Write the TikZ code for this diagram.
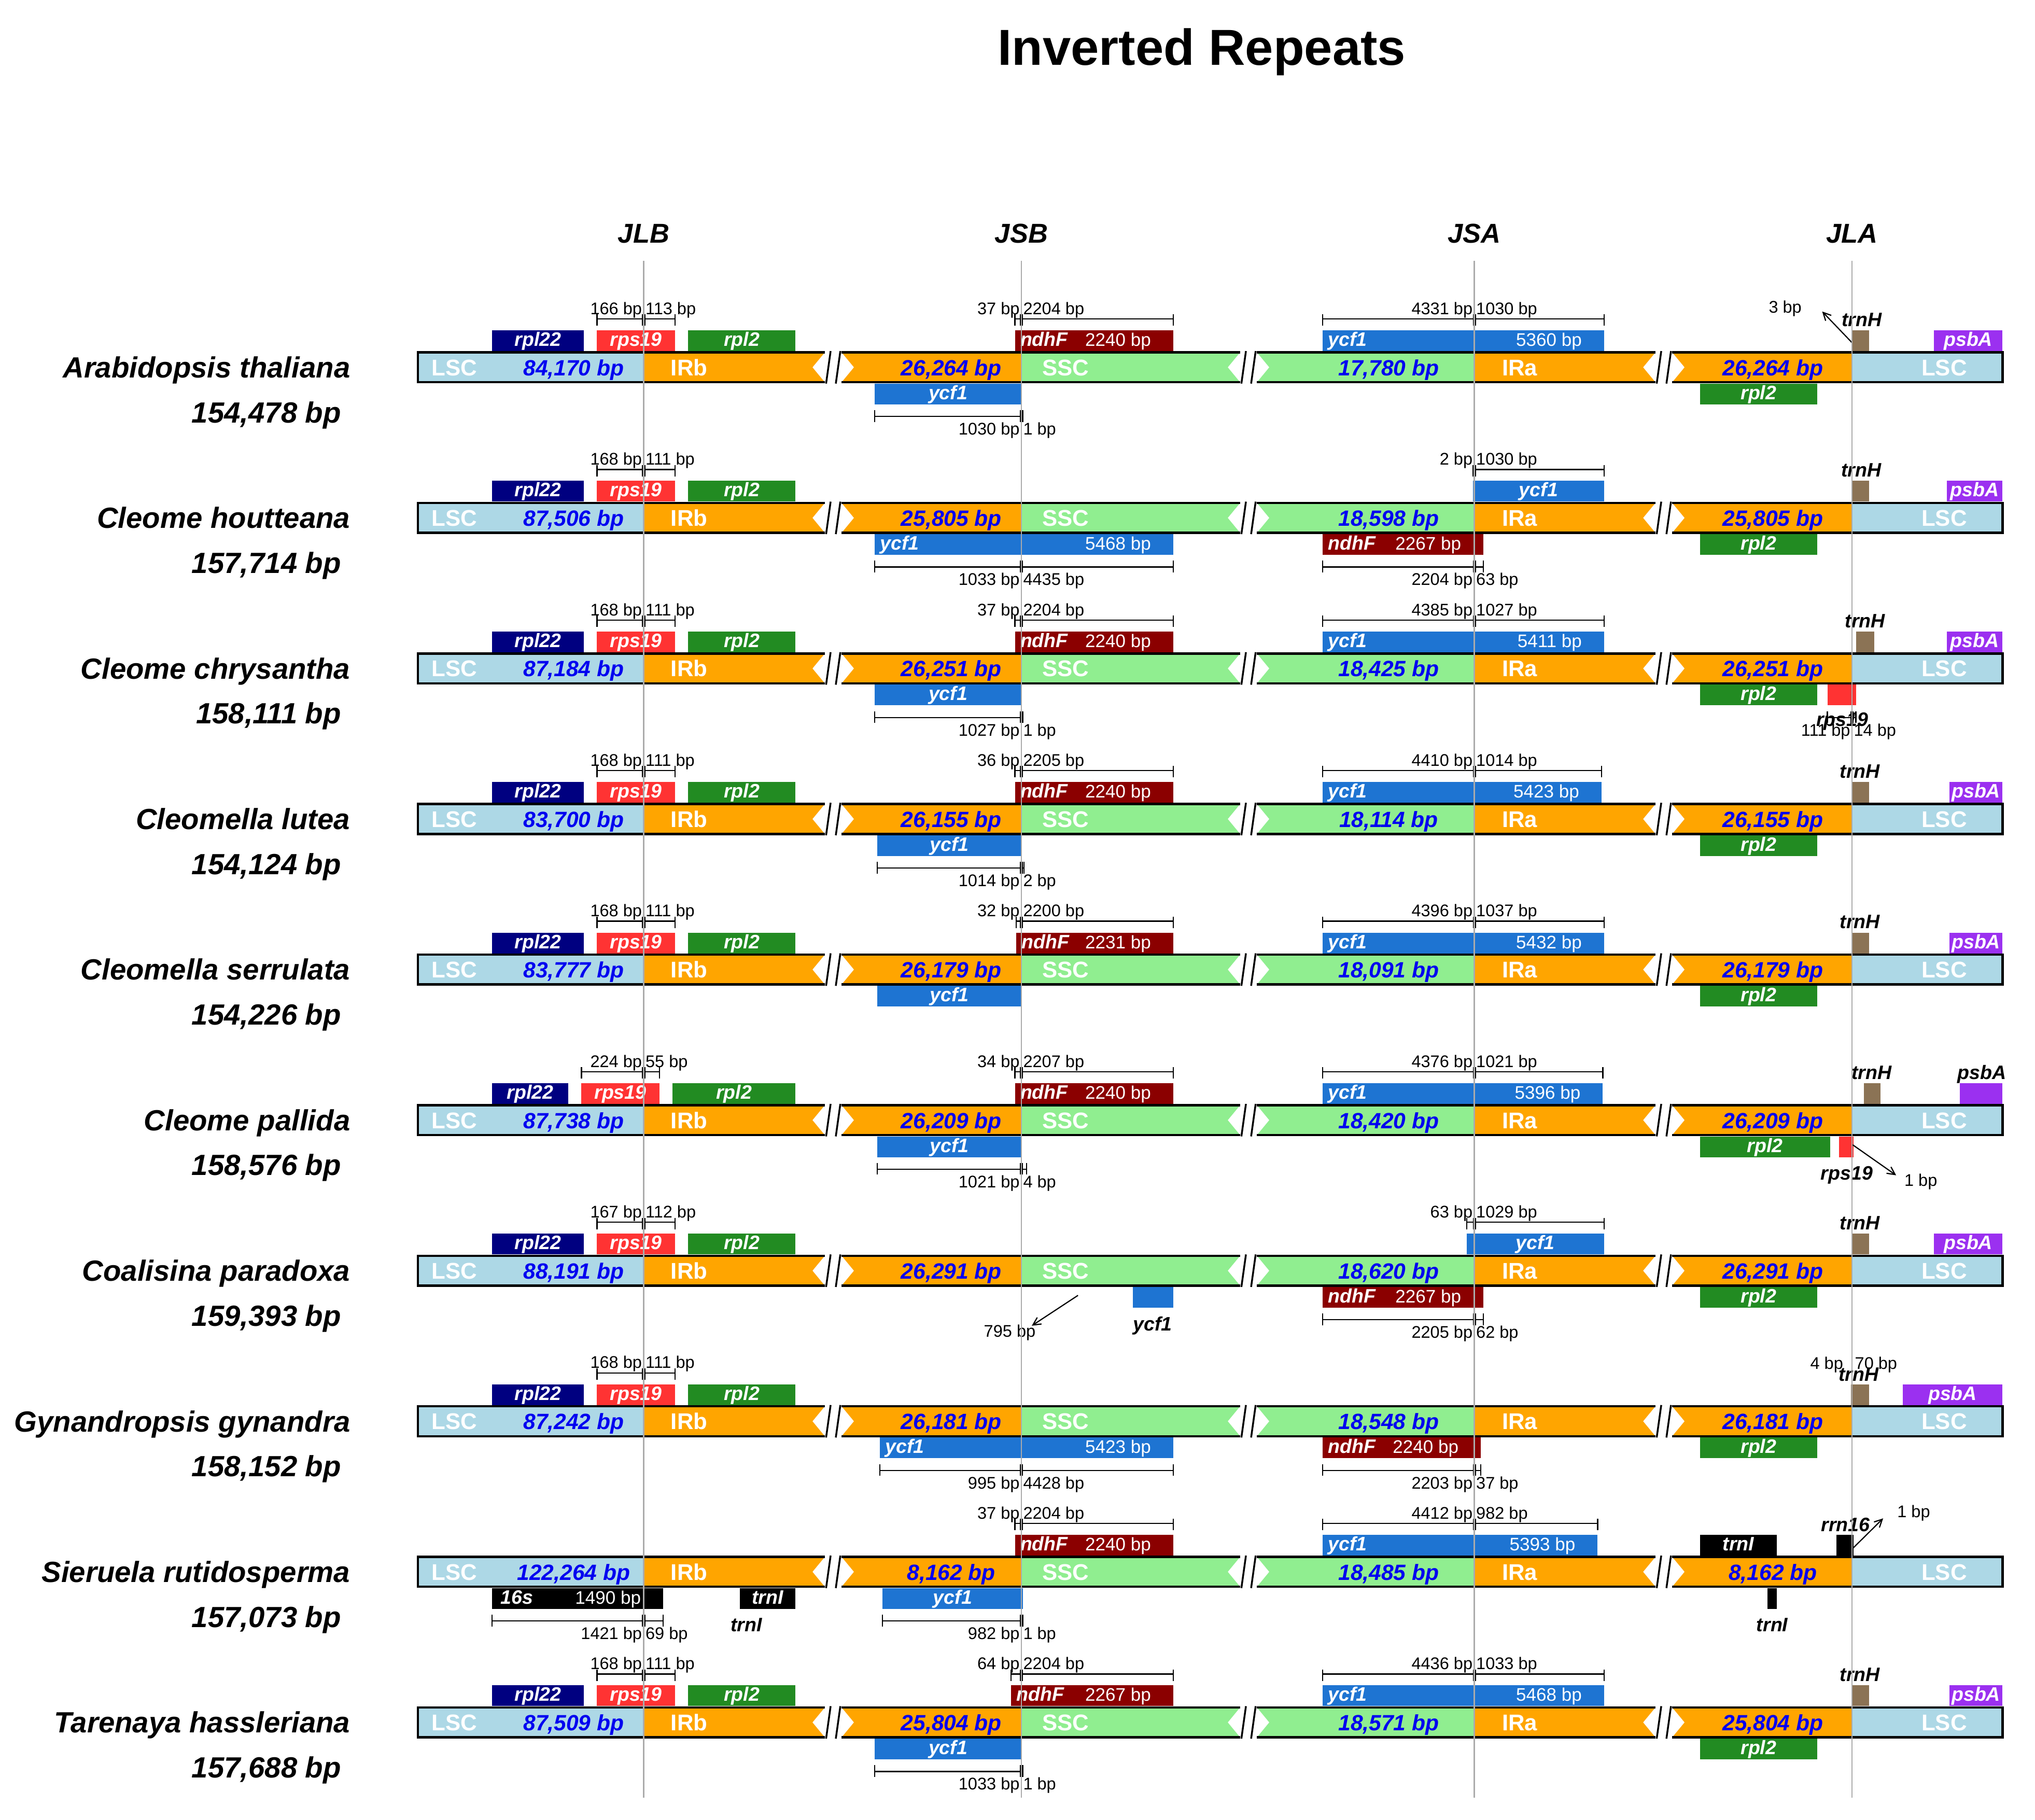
\documentclass[tikz,border=0pt]{standalone}
\usepackage{fontspec}
\setmainfont{Liberation Sans}
\usetikzlibrary{arrows.meta}

\definecolor{lscblue}{HTML}{ADD8E6}
\definecolor{irorange}{HTML}{FFA500}
\definecolor{sscgreen}{HTML}{90EE90}
\definecolor{rplnavy}{HTML}{000080}
\definecolor{rpsred}{HTML}{FF3333}
\definecolor{rplgreen}{HTML}{228B22}
\definecolor{ndhred}{HTML}{8B0000}
\definecolor{ycfblue}{HTML}{1E74D2}
\definecolor{trnbrown}{HTML}{8B7355}
\definecolor{psbpurple}{HTML}{9B30F0}
\definecolor{numblue}{HTML}{0000F0}

\tikzset{
  barline/.style={line width=1.8pt,black},
  slash/.style={line width=1.4pt,black},
  junc/.style={line width=1.1pt,black!33},
  brk/.style={line width=0.9pt,black},
  ptr/.style={line width=0.9pt,-{Straight Barb[length=6pt,width=6pt]}},
  mtxt/.style={inner sep=0pt,font=\fontsize{13}{15}\selectfont},
  gname/.style={inner sep=0pt,text=white,font=\fontsize{15}{17}\selectfont\bfseries\itshape},
  gval/.style={inner sep=0pt,text=white,font=\fontsize{14}{16}\selectfont},
  glbl/.style={inner sep=0pt,font=\fontsize{15}{17}\selectfont\bfseries\itshape},
  reglbl/.style={inner sep=0pt,text=white,font=\fontsize{17.5}{20}\selectfont\bfseries},
  lenlbl/.style={inner sep=0pt,text=numblue,font=\fontsize{17}{20}\selectfont\bfseries\itshape},
  spname/.style={inner sep=0pt,font=\fontsize{22.5}{26}\selectfont\bfseries\itshape},
  hdr/.style={inner sep=0pt,font=\fontsize{21}{24}\selectfont\bfseries\itshape},
  ttl/.style={inner sep=0pt,font=\fontsize{39}{44}\selectfont\bfseries}
}

% one genome bar: y, LSC, IRb, SSC, IRa lengths
\newcommand{\chloro}[5]{%
  \fill[lscblue] (322,#1-11.5) rectangle (496,#1+11.5);
  \fill[irorange] (496,#1-11.5) -- (635.5,#1-11.5) -- (626,#1) -- (635.5,#1+11.5) -- (496,#1+11.5) -- cycle;
  \fill[irorange] (648.5,#1-11.5) -- (787,#1-11.5) -- (787,#1+11.5) -- (648.5,#1+11.5) -- (658,#1) -- cycle;
  \fill[sscgreen] (787,#1-11.5) -- (955.5,#1-11.5) -- (946,#1) -- (955.5,#1+11.5) -- (787,#1+11.5) -- cycle;
  \fill[sscgreen] (968.5,#1-11.5) -- (1136,#1-11.5) -- (1136,#1+11.5) -- (968.5,#1+11.5) -- (978,#1) -- cycle;
  \fill[irorange] (1136,#1-11.5) -- (1275.5,#1-11.5) -- (1266,#1) -- (1275.5,#1+11.5) -- (1136,#1+11.5) -- cycle;
  \fill[irorange] (1288.5,#1-11.5) -- (1427,#1-11.5) -- (1427,#1+11.5) -- (1288.5,#1+11.5) -- (1298,#1) -- cycle;
  \fill[lscblue] (1427,#1-11.5) rectangle (1543,#1+11.5);
  \draw[barline] (635.5,#1-11.5) -- (322,#1-11.5) -- (322,#1+11.5) -- (635.5,#1+11.5);
  \draw[barline] (1288.5,#1-11.5) -- (1543,#1-11.5) -- (1543,#1+11.5) -- (1288.5,#1+11.5);
  \foreach \xa/\xb in {648.5/955.5,968.5/1275.5}{
    \draw[barline] (\xa,#1-11.5) -- (\xb,#1-11.5);
    \draw[barline] (\xa,#1+11.5) -- (\xb,#1+11.5);}
  \foreach \c in {642,962,1282}{
    \draw[slash] (\c-5.5,#1+12.5) -- (\c-2,#1-12.5);
    \draw[slash] (\c+2,#1+12.5) -- (\c+5.5,#1-12.5);}
  \node[reglbl,anchor=base] (lscl-#1) at (350,#1+6.3) {LSC};
  \node[reglbl,anchor=base] (irb-#1) at (531,#1+6.3) {IRb};
  \node[reglbl,anchor=base] (ssc-#1) at (821,#1+6.3) {SSC};
  \node[reglbl,anchor=base] (ira-#1) at (1171,#1+6.3) {IRa};
  \node[reglbl,anchor=base] (lscr-#1) at (1498,#1+6.3) {LSC};
  \node[lenlbl,anchor=base] (nlsc-#1) at (442,#1+6.3) {#2};
  \node[lenlbl,anchor=base] (nirb-#1) at (733,#1+6.3) {#3};
  \node[lenlbl,anchor=base] (nssc-#1) at (1070,#1+6.3) {#4};
  \node[lenlbl,anchor=base] (nira-#1) at (1366,#1+6.3) {#5};
}
\newcommand{\species}[3]{%
  \node[spname,anchor=base east] (sp-#1) at (270,#1+8) {#2};
  \node[spname,anchor=base east] (sz-#1) at (263,#1+42.6) {#3};}
% gene boxes above / below the bar: y, x1, x2, colour, name (, length)
\newcommand{\gup}[5]{%
  \fill[#4] (#2,#1-28.5) rectangle (#3,#1-12.5);
  \node[gname,anchor=base] (g#2-#1) at ({(#2+#3)/2},#1-16.3) {#5};}
\newcommand{\gdn}[5]{%
  \fill[#4] (#2,#1+12.5) rectangle (#3,#1+28.5);
  \node[gname,anchor=base] (h#2-#1) at ({(#2+#3)/2},#1+24.7) {#5};}
\newcommand{\gupl}[6]{%
  \fill[#4] (#2,#1-28.5) rectangle (#3,#1-12.5);
  \node[gname,anchor=base west] (g#2-#1) at (#2+4,#1-16.3) {#5};
  \node[gval,anchor=base east] (v#2-#1) at (#3-17,#1-16.3) {#6};}
\newcommand{\gdnl}[6]{%
  \fill[#4] (#2,#1+12.5) rectangle (#3,#1+28.5);
  \node[gname,anchor=base west] (h#2-#1) at (#2+4,#1+24.7) {#5};
  \node[gval,anchor=base east] (w#2-#1) at (#3-17,#1+24.7) {#6};}
% distance brackets: y, x1, junction, x2, left text, right text
\newcommand{\topbr}[6]{%
  \draw[brk] (#2,#1-37.3) -- (#4,#1-37.3);
  \foreach \tx in {#2,#3-0.8,#3+0.8,#4} \draw[brk] (\tx,#1-40.8) -- (\tx,#1-32);
  \node[mtxt,anchor=base east] (l#2-#1) at (#3-1.2,#1-40.8) {#5};
  \node[mtxt,anchor=base west] (r#2-#1) at (#3+1.2,#1-40.8) {#6};}
\newcommand{\botbr}[6]{%
  \draw[brk] (#2,#1+37.8) -- (#4,#1+37.8);
  \foreach \tx in {#2,#3-0.8,#3+0.8,#4} \draw[brk] (\tx,#1+33) -- (\tx,#1+42);
  \node[mtxt,anchor=base east] (m#2-#1) at (#3-1.2,#1+52) {#5};
  \node[mtxt,anchor=base west] (n#2-#1) at (#3+1.2,#1+52) {#6};}
\newcommand{\jlbgenes}[1]{%
  \gup{#1}{379}{450}{rplnavy}{rpl22}
  \gup{#1}{460}{520}{rpsred}{rps19}
  \gup{#1}{530}{613}{rplgreen}{rpl2}}

\begin{document}
\begin{tikzpicture}[x=1pt,y=-1pt]
\useasboundingbox (0,0) rectangle (1568,1402);

\node[ttl,anchor=base] (title) at (926,50) {Inverted Repeats};
\node[hdr,anchor=base] (jlb) at (496,187) {JLB};
\node[hdr,anchor=base] (jsb) at (787,187) {JSB};
\node[hdr,anchor=base] (jsa) at (1136,187) {JSA};
\node[hdr,anchor=base] (jla) at (1427,187) {JLA};

% Arabidopsis thaliana
\chloro{283}{84,170 bp}{26,264 bp}{17,780 bp}{26,264 bp}
\species{283}{Arabidopsis thaliana}{154,478 bp}
\jlbgenes{283}
\gupl{283}{782}{904}{ndhred}{ndhF}{2240 bp}
\gupl{283}{1019}{1236}{ycfblue}{ycf1}{5360 bp}
\gup{283}{1427}{1440}{trnbrown}{}
\gup{283}{1490}{1543}{psbpurple}{psbA}
\gdn{283}{674}{787}{ycfblue}{ycf1}
\gdn{283}{1310}{1400}{rplgreen}{rpl2}
\topbr{283}{460}{496}{520}{166 bp}{113 bp}
\topbr{283}{782}{787}{904}{37 bp}{2204 bp}
\topbr{283}{1019}{1136}{1236}{4331 bp}{1030 bp}
\botbr{283}{674}{787}{788}{1030 bp}{1 bp}
\node[glbl,anchor=base] (trnh1) at (1434.5,251.4) {trnH};
\coordinate (a1s) at (1427,264);
\coordinate (a1e) at (1404,240);
\draw[ptr] (a1s) -- (a1e);
\node[mtxt,anchor=base] (bp1) at (1375.5,241) {3 bp};

% Cleome houtteana
\chloro{399}{87,506 bp}{25,805 bp}{18,598 bp}{25,805 bp}
\species{399}{Cleome houtteana}{157,714 bp}
\jlbgenes{399}
\gup{399}{1135}{1236}{ycfblue}{ycf1}
\gup{399}{1427}{1440}{trnbrown}{}
\gup{399}{1500}{1543}{psbpurple}{psbA}
\gdnl{399}{674}{904}{ycfblue}{ycf1}{5468 bp}
\gdnl{399}{1019}{1143}{ndhred}{ndhF}{2267 bp}
\gdn{399}{1310}{1400}{rplgreen}{rpl2}
\topbr{399}{460}{496}{520}{168 bp}{111 bp}
\topbr{399}{1135}{1136}{1236}{2 bp}{1030 bp}
\botbr{399}{674}{787}{904}{1033 bp}{4435 bp}
\botbr{399}{1019}{1136}{1143}{2204 bp}{63 bp}
\node[glbl,anchor=base] (trnh2) at (1434,367.4) {trnH};

% Cleome chrysantha
\chloro{515}{87,184 bp}{26,251 bp}{18,425 bp}{26,251 bp}
\species{515}{Cleome chrysantha}{158,111 bp}
\jlbgenes{515}
\gupl{515}{782}{904}{ndhred}{ndhF}{2240 bp}
\gupl{515}{1019}{1236}{ycfblue}{ycf1}{5411 bp}
\gup{515}{1430}{1444}{trnbrown}{}
\gup{515}{1500}{1543}{psbpurple}{psbA}
\gdn{515}{674}{787}{ycfblue}{ycf1}
\gdn{515}{1310}{1400}{rplgreen}{rpl2}
\gdn{515}{1408}{1430}{rpsred}{}
\topbr{515}{460}{496}{520}{168 bp}{111 bp}
\topbr{515}{782}{787}{904}{37 bp}{2204 bp}
\topbr{515}{1019}{1136}{1236}{4385 bp}{1027 bp}
\botbr{515}{674}{787}{788}{1027 bp}{1 bp}
\botbr{515}{1408}{1427}{1430}{111 bp}{14 bp}
\node[glbl,anchor=base] (trnh3) at (1437,483.4) {trnH};
\node[glbl,anchor=base] (rps3) at (1419.5,559.4) {rps19};

% Cleomella lutea
\chloro{631}{83,700 bp}{26,155 bp}{18,114 bp}{26,155 bp}
\species{631}{Cleomella lutea}{154,124 bp}
\jlbgenes{631}
\gupl{631}{782}{904}{ndhred}{ndhF}{2240 bp}
\gupl{631}{1019}{1234}{ycfblue}{ycf1}{5423 bp}
\gup{631}{1427}{1440}{trnbrown}{}
\gup{631}{1502}{1543}{psbpurple}{psbA}
\gdn{631}{676}{787}{ycfblue}{ycf1}
\gdn{631}{1310}{1400}{rplgreen}{rpl2}
\topbr{631}{460}{496}{520}{168 bp}{111 bp}
\topbr{631}{782}{787}{904}{36 bp}{2205 bp}
\topbr{631}{1019}{1136}{1234}{4410 bp}{1014 bp}
\botbr{631}{676}{787}{789}{1014 bp}{2 bp}
\node[glbl,anchor=base] (trnh4) at (1433,599.4) {trnH};

% Cleomella serrulata
\chloro{747}{83,777 bp}{26,179 bp}{18,091 bp}{26,179 bp}
\species{747}{Cleomella serrulata}{154,226 bp}
\jlbgenes{747}
\gupl{747}{783}{904}{ndhred}{ndhF}{2231 bp}
\gupl{747}{1019}{1236}{ycfblue}{ycf1}{5432 bp}
\gup{747}{1427}{1440}{trnbrown}{}
\gup{747}{1502}{1543}{psbpurple}{psbA}
\gdn{747}{676}{787}{ycfblue}{ycf1}
\gdn{747}{1310}{1400}{rplgreen}{rpl2}
\topbr{747}{460}{496}{520}{168 bp}{111 bp}
\topbr{747}{783}{787}{904}{32 bp}{2200 bp}
\topbr{747}{1019}{1136}{1236}{4396 bp}{1037 bp}
\node[glbl,anchor=base] (trnh5) at (1433,715.4) {trnH};

% Cleome pallida
\chloro{863}{87,738 bp}{26,209 bp}{18,420 bp}{26,209 bp}
\species{863}{Cleome pallida}{158,576 bp}
\gup{863}{379}{438}{rplnavy}{rpl22}
\gup{863}{448}{508}{rpsred}{rps19}
\gup{863}{518}{613}{rplgreen}{rpl2}
\gupl{863}{782}{904}{ndhred}{ndhF}{2240 bp}
\gupl{863}{1019}{1235}{ycfblue}{ycf1}{5396 bp}
\gup{863}{1436}{1449}{trnbrown}{}
\gup{863}{1510}{1543}{psbpurple}{}
\gdn{863}{676}{787}{ycfblue}{ycf1}
\gdn{863}{1310}{1410}{rplgreen}{rpl2}
\gdn{863}{1417}{1428}{rpsred}{}
\topbr{863}{448}{496}{508}{224 bp}{55 bp}
\topbr{863}{782}{787}{904}{34 bp}{2207 bp}
\topbr{863}{1019}{1136}{1235}{4376 bp}{1021 bp}
\botbr{863}{676}{787}{791}{1021 bp}{4 bp}
\node[glbl,anchor=base] (trnh6) at (1442,831.4) {trnH};
\node[glbl,anchor=base] (psba6) at (1527,831.4) {psbA};
\node[glbl,anchor=base] (rps6) at (1423,909) {rps19};
\coordinate (a6s) at (1427.5,882);
\coordinate (a6e) at (1461,905.5);
\draw[ptr] (a6s) -- (a6e);
\node[mtxt,anchor=base] (bp6) at (1480,914) {1 bp};

% Coalisina paradoxa
\chloro{979}{88,191 bp}{26,291 bp}{18,620 bp}{26,291 bp}
\species{979}{Coalisina paradoxa}{159,393 bp}
\jlbgenes{979}
\gup{979}{1130}{1236}{ycfblue}{ycf1}
\gup{979}{1427}{1440}{trnbrown}{}
\gup{979}{1490}{1543}{psbpurple}{psbA}
\gdn{979}{873}{904}{ycfblue}{}
\gdnl{979}{1019}{1143}{ndhred}{ndhF}{2267 bp}
\gdn{979}{1310}{1400}{rplgreen}{rpl2}
\topbr{979}{460}{496}{520}{167 bp}{112 bp}
\topbr{979}{1130}{1136}{1236}{63 bp}{1029 bp}
\botbr{979}{1019}{1136}{1143}{2205 bp}{62 bp}
\node[glbl,anchor=base] (trnh7) at (1433,947.4) {trnH};
\node[glbl,anchor=base] (ycf7) at (888,1025.4) {ycf1};
\coordinate (a7s) at (830.6,998);
\coordinate (a7e) at (795,1021.4);
\draw[ptr] (a7s) -- (a7e);
\node[mtxt,anchor=base] (bp7) at (778,1030) {795 bp};

% Gynandropsis gynandra
\chloro{1095}{87,242 bp}{26,181 bp}{18,548 bp}{26,181 bp}
\species{1095}{Gynandropsis gynandra}{158,152 bp}
\jlbgenes{1095}
\gup{1095}{1426}{1440}{trnbrown}{}
\gup{1095}{1466}{1543}{psbpurple}{psbA}
\gdnl{1095}{678}{904}{ycfblue}{ycf1}{5423 bp}
\gdnl{1095}{1019}{1141}{ndhred}{ndhF}{2240 bp}
\gdn{1095}{1310}{1400}{rplgreen}{rpl2}
\topbr{1095}{460}{496}{520}{168 bp}{111 bp}
\node[mtxt,anchor=base] (bp8a) at (1407.5,1055) {4 bp};
\node[mtxt,anchor=base] (bp8b) at (1445.5,1055) {70 bp};
\botbr{1095}{678}{787}{904}{995 bp}{4428 bp}
\botbr{1095}{1019}{1136}{1141}{2203 bp}{37 bp}
\node[glbl,anchor=base] (trnh8) at (1432,1064) {trnH};

% Sieruela rutidosperma
\chloro{1211}{122,264 bp}{8,162 bp}{18,485 bp}{8,162 bp}
\species{1211}{Sieruela rutidosperma}{157,073 bp}
\gupl{1211}{782}{904}{ndhred}{ndhF}{2240 bp}
\gupl{1211}{1019}{1231}{ycfblue}{ycf1}{5393 bp}
\gup{1211}{1310}{1369}{black}{trnI}
\gup{1211}{1415}{1428}{black}{}
\gdnl{1211}{379}{511}{black}{\,16s}{1490 bp}
\gdn{1211}{570}{613}{black}{trnI}
\gdn{1211}{680}{788}{ycfblue}{ycf1}
\gdn{1211}{1362}{1369}{black}{}
\topbr{1211}{782}{787}{904}{37 bp}{2204 bp}
\topbr{1211}{1019}{1136}{1231}{4412 bp}{982 bp}
\botbr{1211}{379}{496}{511}{1421 bp}{69 bp}
\botbr{1211}{680}{787}{788}{982 bp}{1 bp}
\node[glbl,anchor=base] (rrn9) at (1422,1180) {rrn16};
\node[glbl,anchor=base] (trni9a) at (575,1257) {trnI};
\node[glbl,anchor=base] (trni9b) at (1365.5,1257) {trnI};
\coordinate (a9s) at (1428,1192.5);
\coordinate (a9e) at (1451,1169.8);
\draw[ptr] (a9s) -- (a9e);
\node[mtxt,anchor=base] (bp9) at (1474.5,1169) {1 bp};

% Tarenaya hassleriana
\chloro{1327}{87,509 bp}{25,804 bp}{18,571 bp}{25,804 bp}
\species{1327}{Tarenaya hassleriana}{157,688 bp}
\jlbgenes{1327}
\gupl{1327}{779}{904}{ndhred}{ndhF}{2267 bp}
\gupl{1327}{1019}{1236}{ycfblue}{ycf1}{5468 bp}
\gup{1327}{1427}{1440}{trnbrown}{}
\gup{1327}{1502}{1543}{psbpurple}{psbA}
\gdn{1327}{674}{787}{ycfblue}{ycf1}
\gdn{1327}{1310}{1400}{rplgreen}{rpl2}
\topbr{1327}{460}{496}{520}{168 bp}{111 bp}
\topbr{1327}{779}{787}{904}{64 bp}{2204 bp}
\topbr{1327}{1019}{1136}{1236}{4436 bp}{1033 bp}
\botbr{1327}{674}{787}{788}{1033 bp}{1 bp}
\node[glbl,anchor=base] (trnh10) at (1433,1295.4) {trnH};

% junction lines
\foreach \jx in {496,787,1136,1427}
  \draw[junc] (\jx,201) -- (\jx,1385);
\end{tikzpicture}
\end{document}
